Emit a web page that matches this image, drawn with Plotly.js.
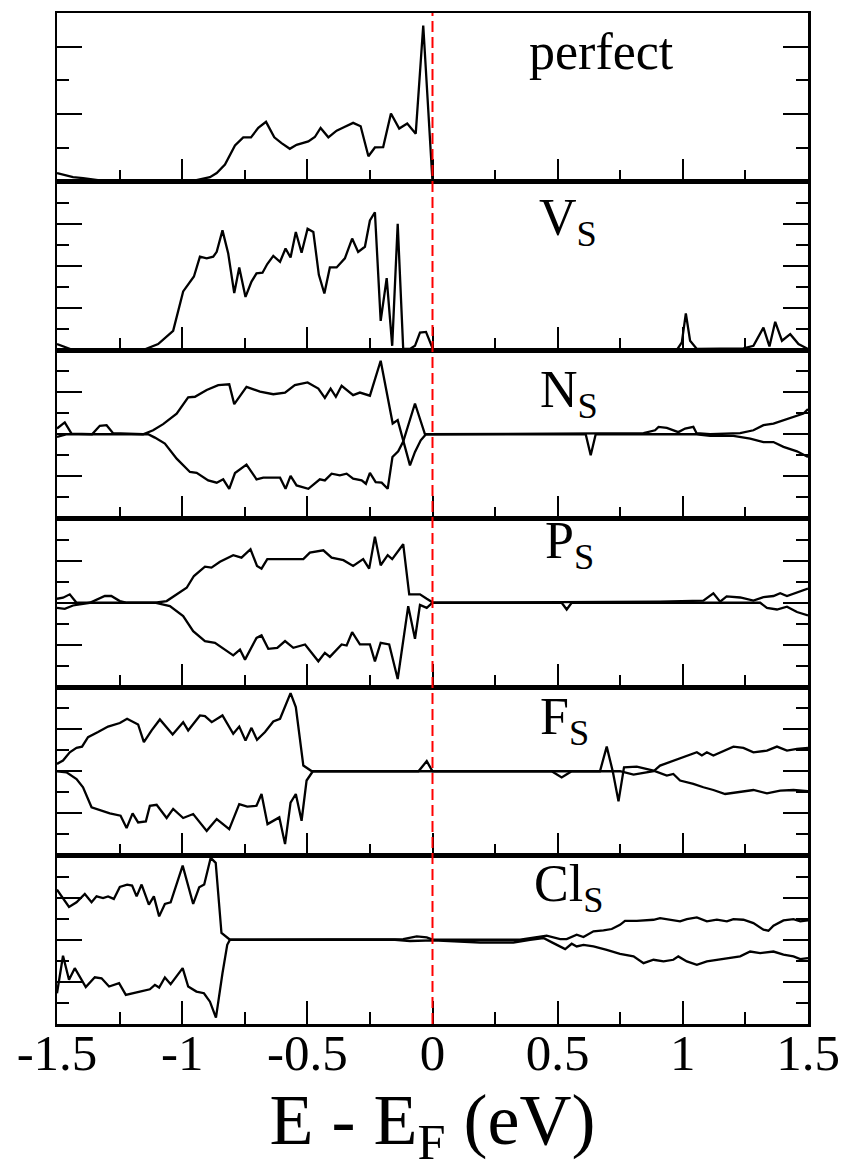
<!DOCTYPE html>
<html>
<head>
<meta charset="utf-8">
<script src="https://cdn.plot.ly/plotly-3.0.1.min.js"></script>
<style>html,body{margin:0;padding:0;background:#fff;}#chart{width:847px;height:1170px;}</style>
</head>
<body>
<div id="chart"></div>
<script>
// ---------- data (E - E_F in eV, DOS in arbitrary units) ----------
var panelLabels = ["perfect", "V<sub>S</sub>", "N<sub>S</sub>", "P<sub>S</sub>", "F<sub>S</sub>", "Cl<sub>S</sub>"];
var xTickVals = [-1.5, -1, -0.5, 0, 0.5, 1, 1.5];
var xTickText = ["-1.5", "-1", "-0.5", "0", "0.5", "1", "1.5"];

var perfectX = [-1.5, -1.436, -1.396, -1.329, -1.25, -0.982, -0.943, -0.889, -0.862, -0.829, -0.789, -0.756, -0.725, -0.696, -0.665, -0.632, -0.603, -0.570, -0.543, -0.516, -0.496, -0.470, -0.447, -0.416, -0.383, -0.354, -0.317, -0.287, -0.256, -0.230, -0.197, -0.166, -0.133, -0.101, -0.067, -0.037, 0.0, 1.5];
var perfectY = [0.25, 0.13, 0.10, 0.03, 0, 0, 0.04, 0.13, 0.25, 0.50, 1.07, 1.31, 1.31, 1.59, 1.77, 1.31, 1.14, 0.97, 1.09, 1.16, 1.19, 1.32, 1.59, 1.31, 1.51, 1.61, 1.74, 1.64, 0.75, 1.01, 1.02, 2.02, 1.57, 1.72, 1.42, 4.63, 0, 0];

var vsX = [-1.5, -1.436, -1.156, -1.096, -1.036, -0.996, -0.953, -0.929, -0.902, -0.876, -0.862, -0.839, -0.816, -0.792, -0.772, -0.747, -0.723, -0.703, -0.679, -0.660, -0.636, -0.609, -0.587, -0.567, -0.546, -0.523, -0.499, -0.476, -0.454, -0.432, -0.410, -0.383, -0.350, -0.321, -0.297, -0.270, -0.250, -0.230, -0.207, -0.183, -0.161, -0.139, -0.117, -0.090, -0.070, -0.050, -0.026, 0.003, 0.976, 0.996, 1.012, 1.029, 1.056, 1.242, 1.282, 1.322, 1.346, 1.369, 1.396, 1.429, 1.462, 1.5];
var vsY = [0.28, 0, 0, 0.28, 0.91, 2.78, 3.49, 4.43, 4.35, 4.43, 4.66, 5.68, 4.58, 2.70, 3.92, 2.52, 3.25, 3.64, 3.67, 4.08, 4.47, 4.19, 4.82, 4.39, 5.60, 4.62, 5.76, 5.60, 3.57, 2.68, 3.92, 3.92, 4.35, 5.29, 4.66, 4.90, 6.15, 6.54, 1.38, 3.41, 0.20, 5.99, 0.05, 0.05, 0.2, 0.83, 0.86, 0, 0, 0.36, 1.74, 0.44, 0.05, 0.08, 0.2, 1.06, 0.17, 1.34, 0.44, 0.75, 0.28, 0.05];

var nsUpX = [-1.5, -1.469, -1.442, -1.36, -1.329, -1.302, -1.276, -1.156, -1.116, -1.076, -1.022, -0.976, -0.949, -0.902, -0.856, -0.812, -0.792, -0.743, -0.689, -0.636, -0.589, -0.550, -0.499, -0.456, -0.430, -0.407, -0.386, -0.363, -0.317, -0.290, -0.250, -0.207, -0.159, -0.139, -0.090, -0.070, -0.047, -0.026, 0.843, 0.889, 0.903, 0.936, 0.982, 1.009, 1.042, 1.055, 1.109, 1.229, 1.282, 1.322, 1.362, 1.402, 1.442, 1.482, 1.5];
var nsUpY = [0.27, 0.56, 0.03, 0, 0.40, 0.43, 0.05, 0, 0.19, 0.48, 0.98, 1.75, 1.78, 2.10, 2.33, 2.37, 1.43, 2.25, 2.02, 1.90, 1.97, 2.33, 2.46, 2.17, 1.73, 2.17, 1.78, 2.30, 1.86, 1.98, 1.83, 3.49, 0.51, 0.67, -1.48, -0.84, -0.29, 0, 0.05, 0.19, 0.35, 0.30, 0.10, 0.27, 0.35, 0.05, 0, 0.05, 0.19, 0.43, 0.51, 0.67, 0.83, 0.98, 1.19];
var nsDnX = [-1.5, -1.46, -1.136, -1.109, -1.069, -1.022, -0.969, -0.942, -0.896, -0.862, -0.836, -0.812, -0.789, -0.743, -0.703, -0.676, -0.609, -0.587, -0.567, -0.543, -0.496, -0.450, -0.430, -0.403, -0.370, -0.343, -0.317, -0.283, -0.266, -0.250, -0.227, -0.203, -0.179, -0.160, -0.137, -0.117, -0.070, -0.030, 0.612, 0.632, 0.652, 1.055, 1.109, 1.202, 1.269, 1.322, 1.362, 1.402, 1.456, 1.5];
var nsDnY = [-0.13, 0, 0, -0.16, -0.44, -1.16, -1.79, -1.83, -2.19, -2.30, -2.14, -2.59, -1.84, -1.44, -2.14, -2.06, -2.06, -2.59, -1.98, -2.43, -2.59, -2.14, -2.19, -1.87, -1.95, -1.87, -2.11, -2.19, -2.35, -1.83, -2.27, -2.30, -2.59, -1.08, -0.81, -0.35, 1.46, 0, 0, -1.0, 0, 0, -0.08, -0.08, -0.21, -0.37, -0.37, -0.6, -0.81, -1.08];

var psUpX = [-1.5, -1.476, -1.449, -1.422, -1.369, -1.336, -1.309, -1.283, -1.249, -1.22, -1.109, -1.062, -1.022, -0.982, -0.953, -0.909, -0.883, -0.849, -0.796, -0.763, -0.727, -0.701, -0.683, -0.660, -0.589, -0.516, -0.490, -0.436, -0.403, -0.356, -0.317, -0.277, -0.253, -0.230, -0.207, -0.179, -0.161, -0.117, -0.093, -0.050, -0.023, 0.003, 0.909, 1.082, 1.122, 1.149, 1.175, 1.229, 1.282, 1.322, 1.362, 1.389, 1.416, 1.456, 1.5];
var psUpY = [0.19, 0.24, 0.40, 0, 0, 0.16, 0.32, 0.32, 0.08, 0, 0, 0.08, 0.40, 0.71, 1.27, 1.71, 1.67, 1.95, 2.26, 2.14, 2.54, 1.75, 1.62, 2.07, 2.07, 2.07, 2.38, 2.49, 2.14, 2.02, 1.75, 2.07, 1.62, 3.14, 1.78, 2.26, 2.07, 2.78, 0.40, 0.40, 0.19, 0, 0.05, 0.1, 0.45, 0.05, 0.3, 0.25, 0.1, 0.27, 0.32, 0.45, 0.32, 0.48, 0.67];
var psDnX = [-1.5, -1.469, -1.436, -1.369, -1.109, -1.049, -0.996, -0.956, -0.909, -0.869, -0.796, -0.769, -0.749, -0.703, -0.683, -0.656, -0.62, -0.589, -0.556, -0.509, -0.456, -0.430, -0.41, -0.363, -0.343, -0.321, -0.290, -0.250, -0.230, -0.207, -0.173, -0.139, -0.097, -0.070, -0.050, -0.023, 0.0, 0.516, 0.536, 0.556, 1.309, 1.336, 1.376, 1.416, 1.456, 1.5];
var psDnY = [-0.24, -0.29, -0.13, 0, 0, -0.16, -0.63, -1.35, -1.82, -1.90, -2.50, -2.22, -2.70, -1.67, -1.55, -2.19, -2.14, -1.82, -2.14, -1.98, -2.78, -2.38, -2.57, -1.98, -2.03, -1.40, -1.98, -1.98, -2.78, -1.90, -1.98, -3.62, -0.16, -1.71, -0.1, -0.24, 0, 0, -0.32, 0, 0, -0.24, -0.32, -0.19, -0.44, -0.60];

var fsUpX = [-1.5, -1.476, -1.449, -1.422, -1.400, -1.376, -1.336, -1.296, -1.249, -1.220, -1.176, -1.153, -1.122, -1.089, -1.038, -0.996, -0.976, -0.929, -0.909, -0.882, -0.839, -0.796, -0.772, -0.747, -0.723, -0.701, -0.669, -0.636, -0.609, -0.567, -0.546, -0.516, -0.482, -0.056, -0.023, 0.0, 0.669, 0.696, 0.720, 0.749, 0.803, 0.883, 0.909, 0.962, 1.016, 1.056, 1.076, 1.096, 1.122, 1.149, 1.202, 1.242, 1.282, 1.336, 1.376, 1.416, 1.456, 1.5];
var fsUpY = [0.35, 0.51, 0.90, 1.11, 1.17, 1.62, 1.86, 2.12, 2.29, 2.49, 2.22, 1.38, 1.94, 2.46, 1.75, 2.33, 1.94, 2.65, 2.62, 2.33, 2.65, 1.78, 2.12, 1.46, 2.06, 1.49, 1.86, 2.36, 2.49, 3.71, 3.05, 0.27, 0, 0, 0.48, 0, 0, 1.17, 0, 0, -0.16, 0, 0.27, 0.51, 0.75, 0.90, 0.75, 0.90, 0.75, 0.90, 1.17, 1.11, 0.90, 0.98, 1.17, 0.98, 1.06, 1.11];
var fsDnX = [-1.5, -1.462, -1.422, -1.396, -1.362, -1.329, -1.289, -1.246, -1.222, -1.198, -1.176, -1.145, -1.129, -1.102, -1.062, -1.036, -0.996, -0.956, -0.902, -0.862, -0.812, -0.772, -0.74, -0.703, -0.683, -0.659, -0.612, -0.589, -0.567, -0.546, -0.523, -0.503, -0.478, 0.476, 0.516, 0.556, 0.720, 0.743, 0.765, 0.816, 0.883, 0.936, 0.962, 0.989, 1.042, 1.082, 1.122, 1.169, 1.216, 1.282, 1.336, 1.389, 1.442, 1.5];
var fsDnY = [0, -0.05, -0.37, -0.76, -1.71, -1.84, -2.0, -2.11, -2.70, -2.0, -2.43, -2.38, -1.64, -1.59, -2.22, -1.79, -2.22, -2.03, -2.83, -2.27, -2.75, -1.56, -1.68, -1.64, -1.08, -2.51, -2.19, -3.46, -1.49, -1.08, -2.35, -0.44, 0, 0, -0.29, 0, 0, -1.43, 0.19, 0.22, 0.03, -0.21, -0.13, -0.44, -0.6, -0.76, -0.89, -1.08, -1.0, -0.89, -1.05, -0.92, -0.89, -0.95];

var clsUpX = [-1.5, -1.482, -1.452, -1.422, -1.389, -1.362, -1.342, -1.316, -1.296, -1.273, -1.249, -1.220, -1.200, -1.182, -1.162, -1.133, -1.113, -1.092, -1.069, -1.046, -0.998, -0.956, -0.932, -0.912, -0.886, -0.866, -0.843, -0.809, -0.117, -0.063, -0.023, 0.003, 0.35, 0.456, 0.510, 0.536, 0.576, 0.603, 0.643, 0.683, 0.716, 0.749, 0.769, 0.816, 0.883, 0.909, 0.949, 0.989, 1.016, 1.056, 1.096, 1.136, 1.176, 1.202, 1.242, 1.282, 1.322, 1.342, 1.362, 1.402, 1.442, 1.469, 1.5];
var clsUpY = [2.38, 2.06, 1.56, 1.78, 2.17, 1.78, 2.06, 1.98, 2.06, 1.94, 2.51, 2.62, 2.57, 2.06, 2.62, 1.67, 2.06, 1.11, 1.70, 1.78, 3.52, 1.70, 2.49, 2.62, 3.89, 3.65, 0.32, 0, 0.03, 0.16, 0.11, 0, 0, 0.19, 0.03, 0.03, 0.24, 0.13, 0.40, 0.44, 0.51, 0.71, 0.90, 0.90, 0.95, 1.03, 0.95, 0.87, 0.98, 1.06, 0.87, 0.95, 0.87, 0.98, 0.95, 0.79, 0.48, 0.43, 0.67, 0.92, 0.98, 0.87, 0.92];
var clsDnX = [-1.5, -1.476, -1.452, -1.429, -1.385, -1.349, -1.322, -1.292, -1.252, -1.225, -1.169, -1.129, -1.109, -1.092, -1.069, -1.046, -0.998, -0.976, -0.943, -0.913, -0.889, -0.865, -0.839, -0.820, -0.809, -0.15, -0.09, -0.02, 0.003, 0.190, 0.323, 0.390, 0.443, 0.483, 0.530, 0.556, 0.576, 0.603, 0.643, 0.696, 0.749, 0.803, 0.843, 0.883, 0.923, 0.962, 0.982, 1.016, 1.056, 1.096, 1.136, 1.189, 1.229, 1.269, 1.309, 1.362, 1.402, 1.442, 1.469, 1.5];
var clsDnY = [-2.54, -0.76, -1.90, -1.35, -2.25, -1.78, -1.83, -2.22, -2.06, -2.62, -2.46, -2.35, -2.14, -2.27, -1.79, -2.11, -1.35, -2.22, -2.46, -2.54, -2.94, -3.70, -1.59, -0.24, 0, 0, -0.06, -0.06, -0.03, -0.13, -0.13, 0, 0.08, -0.16, -0.44, -0.19, -0.32, -0.24, -0.32, -0.48, -0.67, -0.79, -1.11, -0.95, -1.03, -0.95, -0.79, -1.03, -1.19, -1.03, -0.95, -0.87, -0.79, -0.56, -0.63, -0.56, -0.71, -0.79, -0.92, -0.87];

var yRanges = [[0, 5], [0, 8], [-4, 4], [-4, 4], [-4, 4], [-4, 4]];

// ---------- build ----------
var FONT = "Liberation Serif";
var series = [
  [0, perfectX, perfectY],
  [1, vsX, vsY],
  [2, nsUpX, nsUpY], [2, nsDnX, nsDnY],
  [3, psUpX, psUpY], [3, psDnX, psDnY],
  [4, fsUpX, fsUpY], [4, fsDnX, fsDnY],
  [5, clsUpX, clsUpY], [5, clsDnX, clsDnY]
];
var traces = series.map(function (s) {
  var k = s[0] + 1;
  return {
    x: s[1], y: s[2], type: "scatter", mode: "lines",
    xaxis: k === 1 ? "x" : "x" + k, yaxis: k === 1 ? "y" : "y" + k,
    line: {color: "#000", width: 2.3}, hoverinfo: "skip", showlegend: false
  };
});

var layout = {
  width: 847, height: 1170,
  margin: {l: 57, r: 39, t: 12.5, b: 146},
  paper_bgcolor: "#fff", plot_bgcolor: "#fff",
  font: {family: FONT, color: "#000"},
  showlegend: false,
  annotations: [],
  shapes: [{
    type: "line", xref: "x", yref: "paper", x0: 0, x1: 0, y0: 0, y1: 1,
    line: {color: "#ff0000", width: 2, dash: "11px,5px"}, layer: "above"
  }]
};

var labelX = [0.378, 0.418, 0.422, 0.442, 0.422, 0.398];
var labelY = [0.955, 0.968, 0.945, 1.05, 1.005, 1.012];

for (var i = 0; i < 6; i++) {
  var k = i + 1;
  var xa = k === 1 ? "xaxis" : "xaxis" + k;
  var ya = k === 1 ? "yaxis" : "yaxis" + k;
  var yid = k === 1 ? "y" : "y" + k;
  var bottom = (k === 6);
  layout[xa] = {
    anchor: yid, range: [-1.5, 1.5], domain: [0, 1],
    tickmode: "array", tickvals: xTickVals, ticktext: xTickText,
    showticklabels: bottom, tickfont: {family: FONT, size: 51, color: "#000"},
    ticklabelstandoff: -18,
    ticks: "inside", ticklen: 23, tickwidth: 2, tickcolor: "#000",
    minor: {ticks: "inside", ticklen: 12, tickwidth: 2, tickcolor: "#000", dtick: 0.25, tick0: 0, showgrid: false},
    showline: true, mirror: true, linecolor: "#000", linewidth: 2.5,
    showgrid: false, zeroline: false, fixedrange: true
  };
  if (k > 1) layout[xa].matches = "x";
  if (bottom) {
    layout[xa].title = {text: "E - E<sub>F</sub> (eV)", font: {family: FONT, size: 72, color: "#000"}, standoff: 22};
  }
  layout[ya] = {
    anchor: k === 1 ? "x" : "x" + k,
    domain: [1 - (i + 1) / 6, 1 - i / 6],
    range: yRanges[i], tick0: 0, dtick: 2,
    ticks: "inside", ticklen: 25, tickwidth: 2, tickcolor: "#000",
    minor: {ticks: "inside", ticklen: 12, tickwidth: 2, tickcolor: "#000", dtick: 1, showgrid: false},
    showticklabels: false, showline: true, mirror: "ticks", linecolor: "#000", linewidth: 2.5,
    showgrid: false, zeroline: false, fixedrange: true
  };
  layout.annotations.push({
    text: panelLabels[i], xref: "x", yref: yid + " domain",
    x: labelX[i], y: labelY[i], xanchor: "left", yanchor: "top",
    showarrow: false, font: {family: FONT, size: 52, color: "#000"}
  });
}

Plotly.newPlot("chart", traces, layout, {staticPlot: true, displayModeBar: false});
</script>
</body>
</html>
